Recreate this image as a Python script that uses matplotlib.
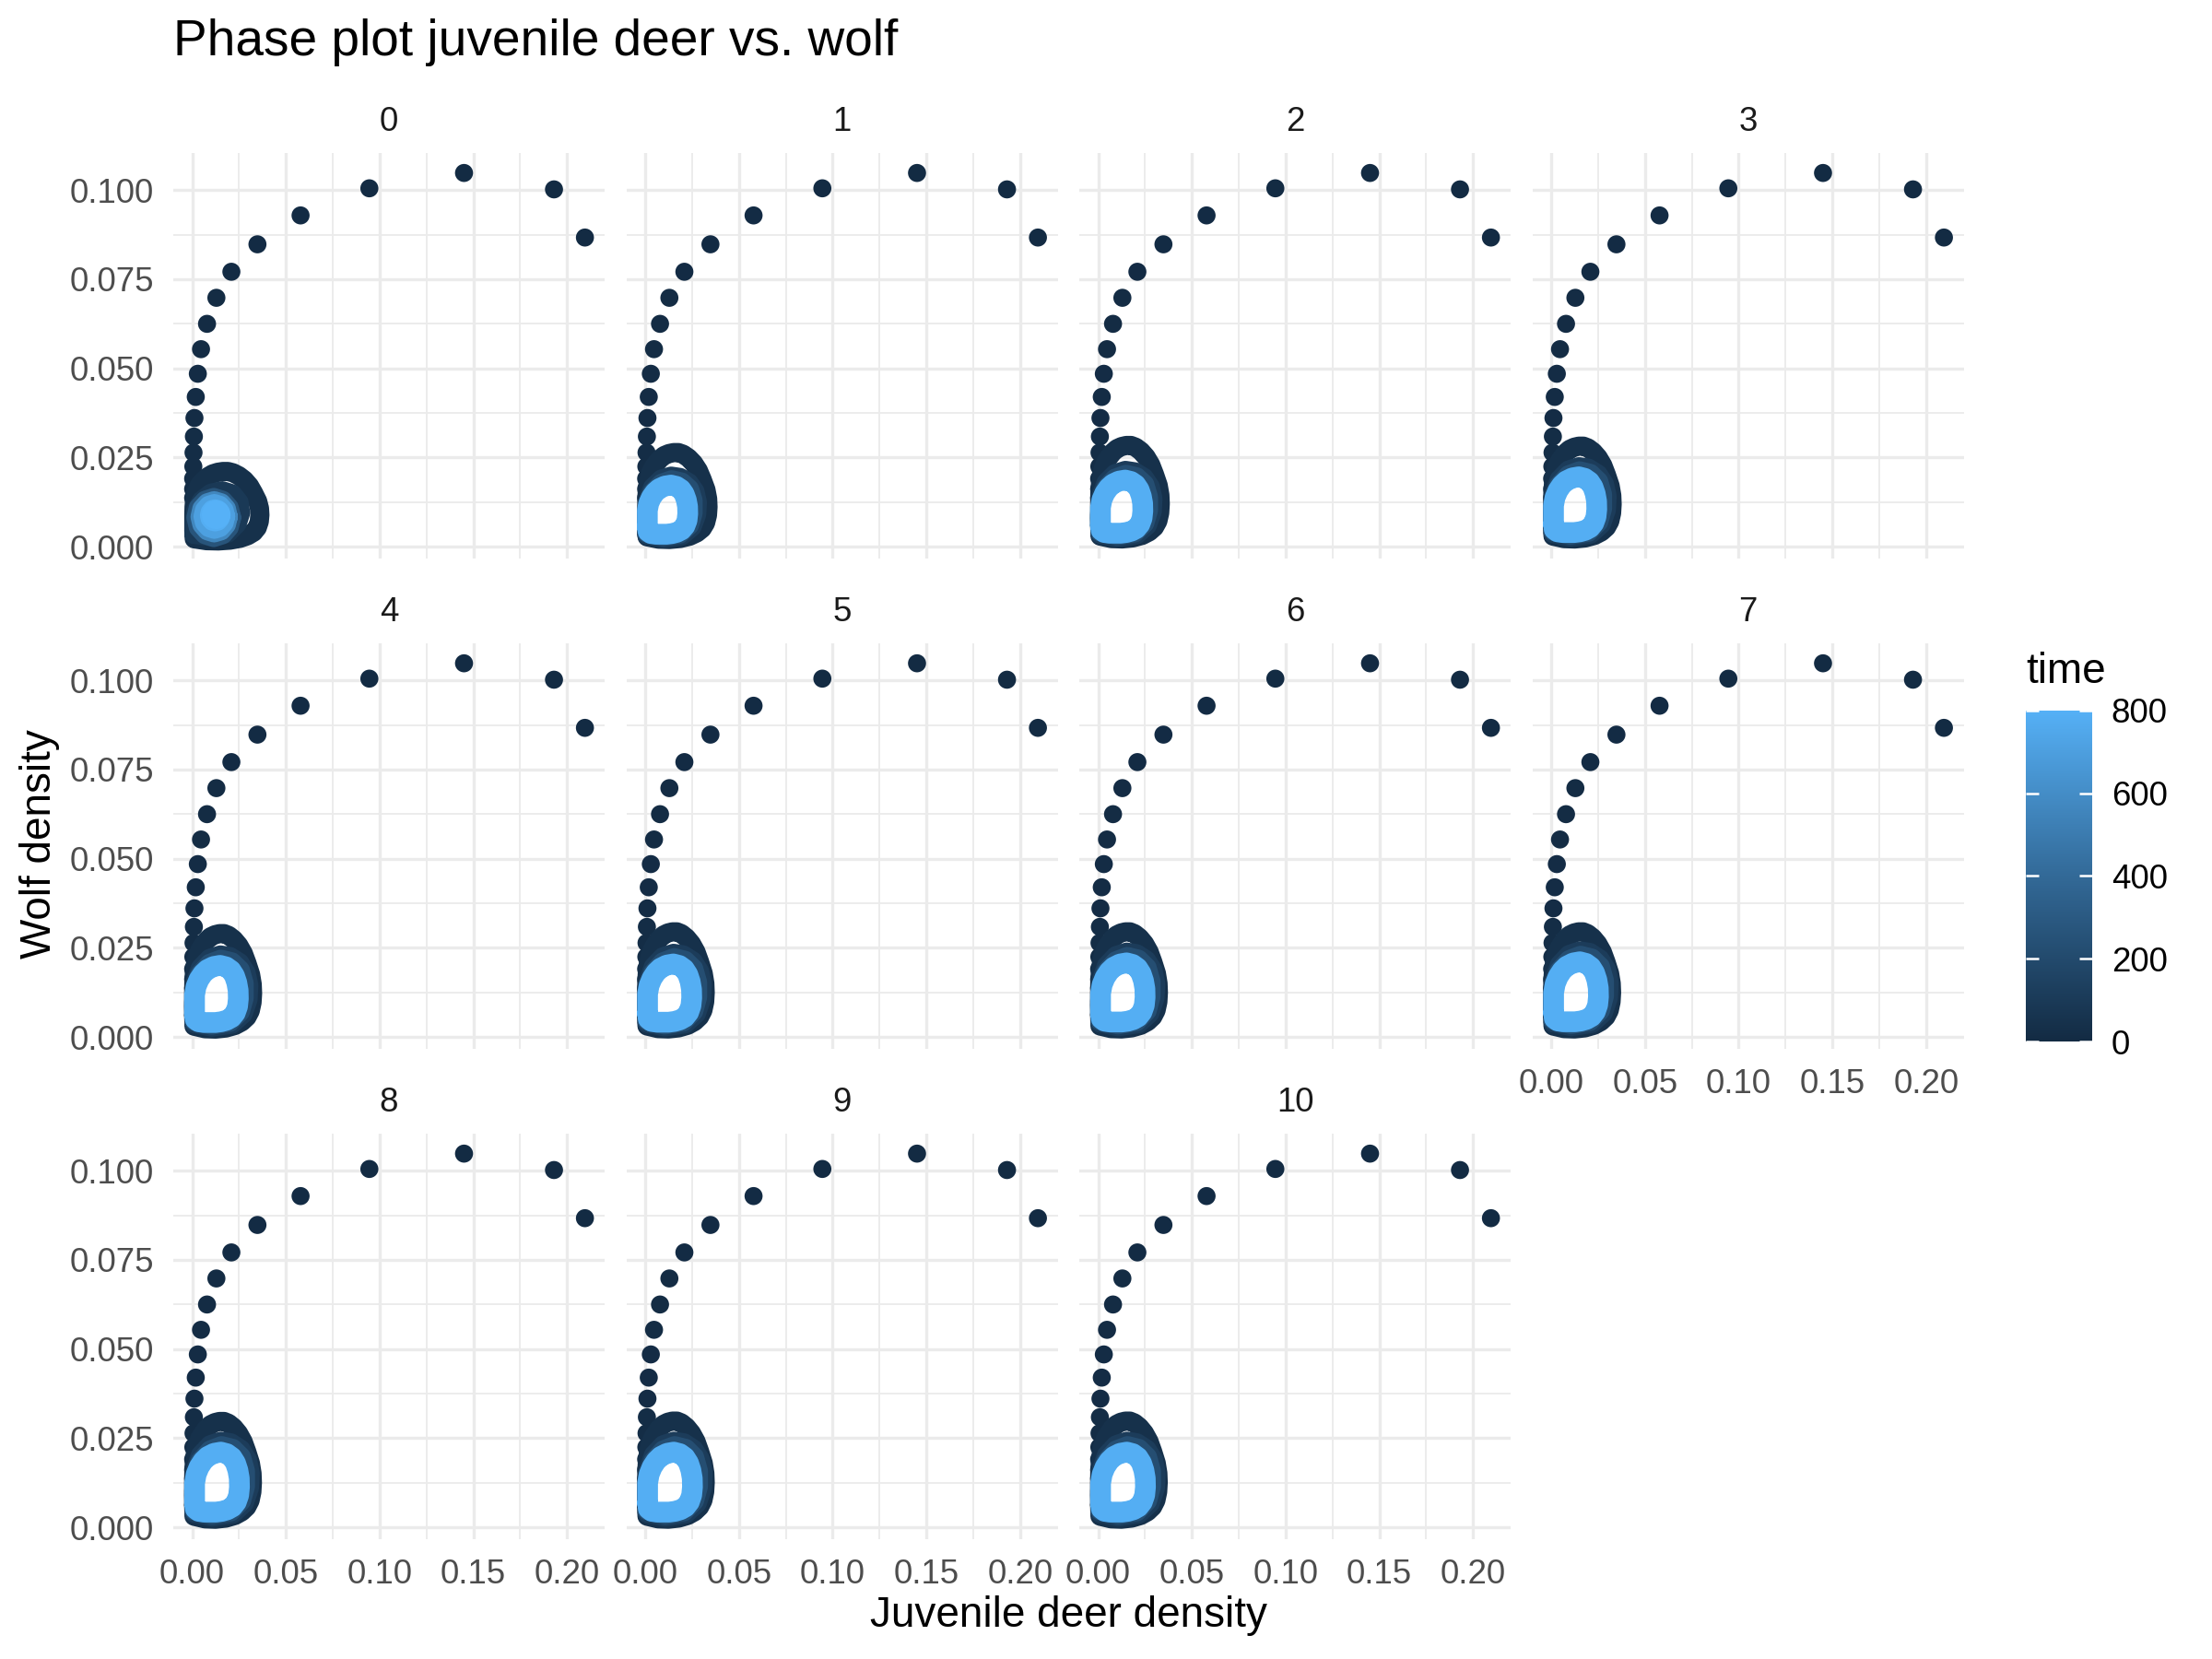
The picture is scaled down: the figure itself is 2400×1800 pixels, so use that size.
import numpy as np
import matplotlib
matplotlib.use("Agg")
import matplotlib.pyplot as plt
from matplotlib.colors import LinearSegmentedColormap, Normalize

plt.rcParams['font.family'] = ['Liberation Sans', 'DejaVu Sans']

# facets
facets = list(range(11))

# early part of the trajectory (sparse points, same in every facet)
start_time = list(range(19))
start_deer = [0.2095, 0.1930, 0.1450, 0.0945, 0.0578, 0.0348, 0.0209, 0.0129, 0.0079, 0.0047,
              0.0030, 0.0019, 0.0012, 0.0009, 0.0007, 0.0006, 0.0005, 0.0005, 0.0005]
start_wolf = [0.0867, 0.1002, 0.1048, 0.1005, 0.0929, 0.0848, 0.0771, 0.0698, 0.0625, 0.0554,
              0.0485, 0.0420, 0.0361, 0.0309, 0.0264, 0.0225, 0.0191, 0.0162, 0.0137]

loop_a_deer = [0.0008, 0.0010, 0.0070, 0.0128, 0.0185, 0.0235, 0.0272, 0.0300, 0.0318, 0.0328, 0.0331,
               0.0329, 0.0320, 0.0300, 0.0280, 0.0255, 0.0228, 0.0200, 0.0175, 0.0150, 0.0125, 0.0100,
               0.0078, 0.0060, 0.0043, 0.0030, 0.0018, 0.0012, 0.0009, 0.0008, 0.0008]
loop_a_wolf = [0.0060, 0.0030, 0.0023, 0.0022, 0.0025, 0.0032, 0.0042, 0.0055, 0.0072, 0.0095, 0.0120,
               0.0145, 0.0172, 0.0203, 0.0230, 0.0252, 0.0268, 0.0279, 0.0284, 0.0284, 0.0281, 0.0275,
               0.0265, 0.0253, 0.0240, 0.0225, 0.0200, 0.0175, 0.0150, 0.0120, 0.0060]
# in-between loops (facet 2)
loop_b_deer = [0.0010, 0.0100, 0.0205, 0.0262, 0.0288, 0.0292, 0.0278, 0.0245, 0.0195, 0.0145, 0.0090,
               0.0042, 0.0014, 0.0008, 0.0010]
loop_b_wolf = [0.0036, 0.0026, 0.0034, 0.0060, 0.0098, 0.0135, 0.0168, 0.0194, 0.0210, 0.0214, 0.0205,
               0.0180, 0.0140, 0.0090, 0.0036]
loop_c_deer = [0.0010, 0.0100, 0.0195, 0.0248, 0.0268, 0.0268, 0.0248, 0.0205, 0.0148, 0.0090, 0.0040,
               0.0013, 0.0008, 0.0010]
loop_c_wolf = [0.0042, 0.0031, 0.0039, 0.0066, 0.0102, 0.0140, 0.0175, 0.0196, 0.0203, 0.0192, 0.0165,
               0.0125, 0.0080, 0.0042]
# limit cycle (facet 2)
cycle_deer = [0.0012, 0.0012, 0.0020, 0.0035, 0.0055, 0.0078, 0.0110, 0.0144, 0.0175, 0.0200, 0.0218,
              0.0230, 0.0237, 0.0238, 0.0234, 0.0222, 0.0203, 0.0178, 0.0150, 0.0120, 0.0090, 0.0060,
              0.0032, 0.0016, 0.0012]
cycle_wolf = [0.0060, 0.0110, 0.0132, 0.0150, 0.0165, 0.0176, 0.0184, 0.0187, 0.0183, 0.0174, 0.0160,
              0.0142, 0.0122, 0.0100, 0.0080, 0.0063, 0.0051, 0.0044, 0.0040, 0.0038, 0.0038, 0.0038,
              0.0040, 0.0046, 0.0060]
loop_times = [40, 110, 220, 780]

# size of first loop and limit cycle per facet (right edge, top)
loop_a_right = [0.0361, 0.0335, 0.0331, 0.0325, 0.0322, 0.0320, 0.0321, 0.0322, 0.0321, 0.0320, 0.0320]
loop_a_top = [0.0211, 0.0264, 0.0284, 0.0282, 0.0290, 0.0295, 0.0295, 0.0295, 0.0297, 0.0298, 0.0298]
cycle_right = [0.0236, 0.0225, 0.0236, 0.0241, 0.0244, 0.0246, 0.0248, 0.0250, 0.0250, 0.0250, 0.0250]
cycle_top = [0.0186, 0.0172, 0.0186, 0.0195, 0.0200, 0.0204, 0.0207, 0.0210, 0.0210, 0.0210, 0.0210]

# facet 0: spiral into a fixed point
f0_b_deer = [0.0010, 0.0100, 0.0190, 0.0240, 0.0258, 0.0250, 0.0215, 0.0160, 0.0100, 0.0050, 0.0018, 0.0010, 0.0010]
f0_b_wolf = [0.0035, 0.0028, 0.0038, 0.0065, 0.0095, 0.0125, 0.0148, 0.0157, 0.0150, 0.0130, 0.0100, 0.0065, 0.0035]
f0_c_deer = [0.0210, 0.0197, 0.0163, 0.0115, 0.0068, 0.0033, 0.0020, 0.0033, 0.0068, 0.0115, 0.0163, 0.0197, 0.0210]
f0_c_wolf = [0.0082, 0.0110, 0.0130, 0.0138, 0.0130, 0.0110, 0.0082, 0.0054, 0.0034, 0.0026, 0.0034, 0.0054, 0.0082]
f0_d_deer = [0.0192, 0.0182, 0.0155, 0.0117, 0.0080, 0.0052, 0.0042, 0.0052, 0.0080, 0.0117, 0.0155, 0.0182, 0.0192]
f0_d_wolf = [0.0084, 0.0107, 0.0123, 0.0129, 0.0123, 0.0107, 0.0084, 0.0062, 0.0045, 0.0039, 0.0045, 0.0062, 0.0084]
f0_e_deer = [0.0178, 0.0170, 0.0148, 0.0118, 0.0088, 0.0066, 0.0058, 0.0066, 0.0088, 0.0118, 0.0148, 0.0170, 0.0178]
f0_e_wolf = [0.0085, 0.0103, 0.0116, 0.0121, 0.0116, 0.0103, 0.0085, 0.0067, 0.0054, 0.0049, 0.0054, 0.0067, 0.0085]
f0_f_deer = [0.0152, 0.0148, 0.0137, 0.0122, 0.0107, 0.0096, 0.0092, 0.0096, 0.0107, 0.0122, 0.0137, 0.0148, 0.0152]
f0_f_wolf = [0.0088, 0.0097, 0.0104, 0.0106, 0.0104, 0.0097, 0.0088, 0.0079, 0.0072, 0.0070, 0.0072, 0.0079, 0.0088]
f0_times = [90, 260, 560, 700, 780]
end_deer, end_wolf, end_time = 0.0125, 0.0092, 800

x_ticks = [0.00, 0.05, 0.10, 0.15, 0.20]
x_labels = ['0.00', '0.05', '0.10', '0.15', '0.20']
y_ticks = [0.000, 0.025, 0.050, 0.075, 0.100]
y_labels = ['0.000', '0.025', '0.050', '0.075', '0.100']
bar_ticks = [0, 200, 400, 600, 800]

cmap = LinearSegmentedColormap.from_list('gg', ['#132B43', '#336A98', '#56B1F7'])
norm = Normalize(0, 800)

W, H = 2400, 1800
fig = plt.figure(figsize=(8, 6), dpi=300)
col_left = [188, 679.5, 1171, 1662.5]
row_top = [166, 698, 1230]
pw, ph = 468, 440
pt = 4.7  # marker diameter in points
lw_ring = 5.0
lw_cycle = 5.4
style = dict(solid_joinstyle='round', solid_capstyle='round', zorder=4)

for i in facets:
    r, c = divmod(i, 4)
    ax = fig.add_axes([col_left[c] / W, 1 - (row_top[r] + ph) / H, pw / W, ph / H])
    ax.set_xlim(-0.0101, 0.2200)
    ax.set_ylim(-0.0033, 0.1104)
    ax.set_xticks(x_ticks)
    ax.set_yticks(y_ticks)
    ax.set_xticks([0.025, 0.075, 0.125, 0.175], minor=True)
    ax.set_yticks([0.0125, 0.0375, 0.0625, 0.0875], minor=True)
    ax.grid(which='major', color='#EBEBEB', lw=0.8)
    ax.grid(which='minor', color='#EBEBEB', lw=0.45)
    ax.set_axisbelow(True)
    for s in ax.spines.values():
        s.set_visible(False)
    ax.tick_params(which='both', length=0, labelsize=8.8, labelcolor='#4D4D4D', pad=5.0)
    if c == 0:
        ax.set_yticklabels(y_labels)
    else:
        ax.set_yticklabels([])
    if r == 2 or i == 7:
        ax.set_xticklabels(x_labels)
    else:
        ax.set_xticklabels([])
    ax.text(0.5, 1 + 33 / ph, str(i), transform=ax.transAxes, ha='center', va='center',
            fontsize=8.8, color='#1A1A1A')

    ax.scatter(start_deer, start_wolf, c=start_time, cmap=cmap, norm=norm, s=pt ** 2,
               linewidths=0, zorder=3)

    sxa = loop_a_right[i] / 0.0331
    sya = loop_a_top[i] / 0.0284
    ax.plot(np.array(loop_a_deer) * sxa, np.array(loop_a_wolf) * sya, color=cmap(norm(loop_times[0])),
            lw=lw_ring, **style)
    if i == 0:
        rings = [(f0_b_deer, f0_b_wolf), (f0_c_deer, f0_c_wolf), (f0_d_deer, f0_d_wolf),
                 (f0_e_deer, f0_e_wolf), (f0_f_deer, f0_f_wolf)]
        for (xd, yd), t in zip(rings, f0_times):
            ax.plot(xd, yd, color=cmap(norm(t)), lw=lw_ring, **style)
        ax.scatter([end_deer], [end_wolf], color=cmap(norm(end_time)), s=(1.6 * pt) ** 2,
                   linewidths=0, zorder=5)
    else:
        sx = cycle_right[i] / 0.0236
        sy = cycle_top[i] / 0.0186
        rings = [(loop_b_deer, loop_b_wolf), (loop_c_deer, loop_c_wolf), (cycle_deer, cycle_wolf)]
        for k, (xd, yd) in enumerate(rings):
            ax.plot(np.array(xd) * sx, np.array(yd) * sy, color=cmap(norm(loop_times[k + 1])),
                    lw=lw_ring if k < 2 else lw_cycle, **style)

# titles
fig.text(188 / W, 1 - 46 / H, 'Phase plot juvenile deer vs. wolf', fontsize=13.2, ha='left', va='center')
fig.text(1159 / W, 1 - 1753 / H, 'Juvenile deer density', fontsize=11, ha='center', va='center')
fig.text(43 / W, 1 - 916 / H, 'Wolf density', fontsize=11, ha='center', va='center', rotation=90)

# colour bar
cax = fig.add_axes([2198 / W, 1 - 1130 / H, 72 / W, (1130 - 770.7) / H])
cax.imshow(np.linspace(0, 800, 256).reshape(-1, 1), cmap=cmap, norm=norm, aspect='auto',
           origin='lower', extent=[0, 1, 0, 800])
cax.set_xlim(0, 1)
cax.set_ylim(0, 800)
cax.hlines(bar_ticks, 0, 0.2, colors='white', lw=0.6)
cax.hlines(bar_ticks, 0.8, 1, colors='white', lw=0.6)
cax.set_xticks([])
cax.yaxis.tick_right()
cax.set_yticks(bar_ticks)
cax.set_yticklabels([str(v) for v in bar_ticks])
cax.tick_params(length=0, labelsize=8.8, pad=5)
for s in cax.spines.values():
    s.set_visible(False)
fig.text(2198 / W, 1 - 729 / H, 'time', fontsize=11, ha='left', va='center')

fig.savefig('out.png', dpi=300, facecolor='white')
